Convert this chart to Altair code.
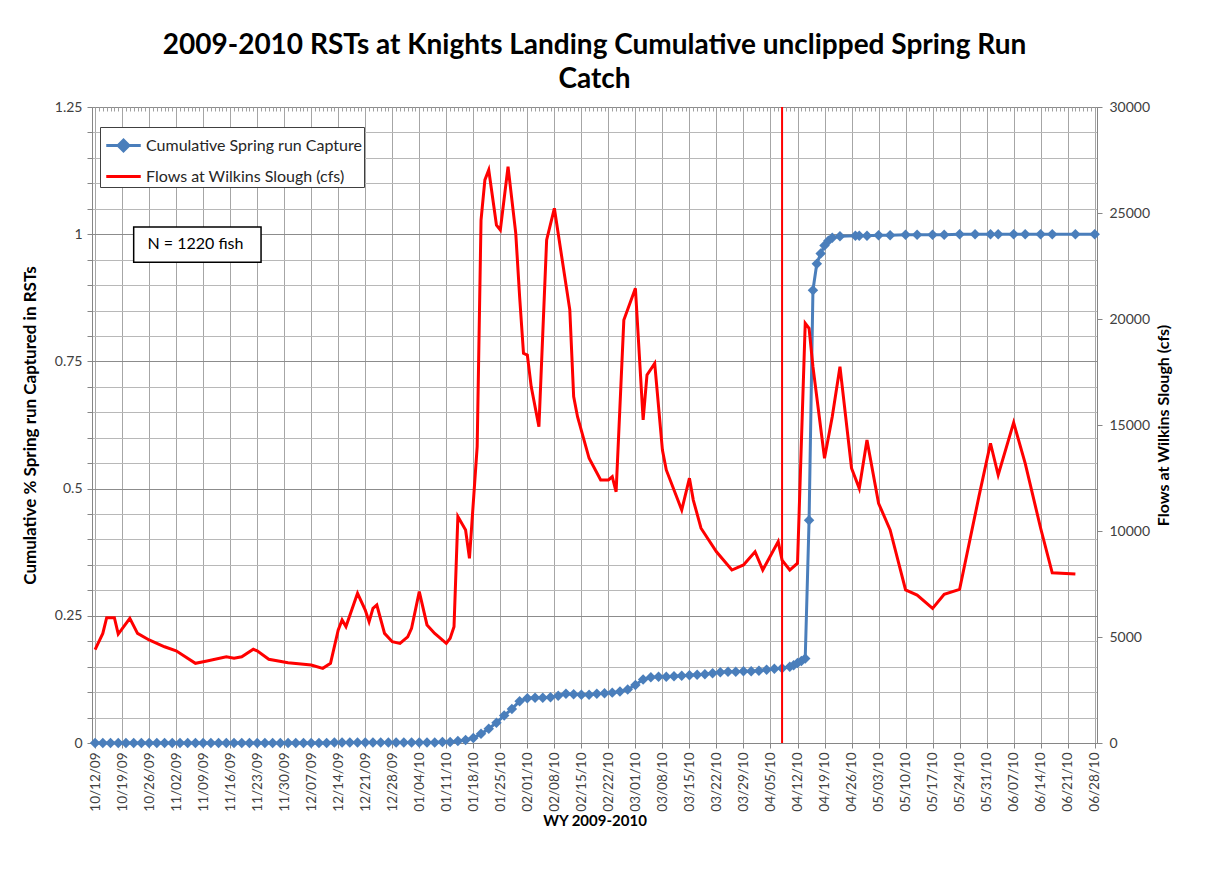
import altair as alt
import pandas as pd

# ---------------- text ----------------
title_lines = ["2009-2010 RSTs at Knights Landing Cumulative unclipped Spring Run", "Catch"]
series_names = ["Cumulative Spring run Capture", "Flows at Wilkins Slough (cfs)"]
x_title = "WY 2009-2010"
left_title = "Cumulative % Spring run Captured in RSTs"
right_title = "Flows at Wilkins Slough (cfs)"
note_text = "N = 1220 fish"

tick_labels = ["10/12/09", "10/19/09", "10/26/09", "11/02/09", "11/09/09", "11/16/09",
               "11/23/09", "11/30/09", "12/07/09", "12/14/09", "12/21/09", "12/28/09",
               "01/04/10", "01/11/10", "01/18/10", "01/25/10", "02/01/10", "02/08/10",
               "02/15/10", "02/22/10", "03/01/10", "03/08/10", "03/15/10", "03/22/10",
               "03/29/10", "04/05/10", "04/12/10", "04/19/10", "04/26/10", "05/03/10",
               "05/10/10", "05/17/10", "05/24/10", "05/31/10", "06/07/10", "06/14/10",
               "06/21/10", "06/28/10"]
left_tick_labels = ["0", "0.25", "0.5", "0.75", "1", "1.25"]
right_tick_values = [0, 5000, 10000, 15000, 20000, 25000, 30000]

# ---------------- flows (right axis, cfs) ----------------
flow_dates = ["2009-10-12", "2009-10-14", "2009-10-15", "2009-10-17", "2009-10-18", "2009-10-21",
              "2009-10-23", "2009-10-26", "2009-10-30", "2009-11-02", "2009-11-07", "2009-11-10",
              "2009-11-15", "2009-11-17", "2009-11-19", "2009-11-22", "2009-11-23", "2009-11-26",
              "2009-12-01", "2009-12-07", "2009-12-10", "2009-12-12", "2009-12-14", "2009-12-15",
              "2009-12-16", "2009-12-19", "2009-12-21", "2009-12-22", "2009-12-23", "2009-12-24",
              "2009-12-26", "2009-12-28", "2009-12-30", "2010-01-01", "2010-01-02", "2010-01-04",
              "2010-01-06", "2010-01-08", "2010-01-11", "2010-01-12", "2010-01-13", "2010-01-14",
              "2010-01-16", "2010-01-17", "2010-01-19", "2010-01-20", "2010-01-21", "2010-01-22",
              "2010-01-24", "2010-01-25", "2010-01-27", "2010-01-29", "2010-01-30", "2010-01-31",
              "2010-02-01", "2010-02-02", "2010-02-04", "2010-02-06", "2010-02-08", "2010-02-12",
              "2010-02-13", "2010-02-14", "2010-02-17", "2010-02-20", "2010-02-22", "2010-02-23",
              "2010-02-24", "2010-02-26", "2010-03-01", "2010-03-03", "2010-03-04", "2010-03-06",
              "2010-03-08", "2010-03-09", "2010-03-13", "2010-03-15", "2010-03-16", "2010-03-18",
              "2010-03-22", "2010-03-26", "2010-03-29", "2010-04-01", "2010-04-03", "2010-04-07",
              "2010-04-08", "2010-04-10", "2010-04-12", "2010-04-14", "2010-04-15", "2010-04-16",
              "2010-04-19", "2010-04-21", "2010-04-23", "2010-04-26", "2010-04-28", "2010-04-30",
              "2010-05-03", "2010-05-06", "2010-05-10", "2010-05-13", "2010-05-17", "2010-05-20",
              "2010-05-24", "2010-05-29", "2010-06-01", "2010-06-03", "2010-06-07", "2010-06-10",
              "2010-06-14", "2010-06-17", "2010-06-23"]
flow_cfs = [4400, 5170, 5910, 5910, 5140, 5880,
            5170, 4860, 4540, 4350, 3760, 3870,
            4070, 4000, 4070, 4420, 4350, 3950,
            3790, 3680, 3520, 3760, 5330, 5800,
            5490, 7060, 6270, 5720, 6350, 6510,
            5170, 4780, 4700, 5010, 5410, 7140,
            5570, 5170, 4700, 4940, 5490, 10680,
            10050, 8710, 13980, 24670, 26560, 27030,
            24430, 24200, 27190, 24040, 21050, 18380,
            18300, 16810, 14920, 23730, 25220, 20430,
            16340, 15390, 13430, 12410, 12410, 12560,
            11850, 19950, 21450, 15240, 17360, 17910,
            13820, 12880, 10990, 12490, 11460, 10130,
            9020, 8160, 8400, 9020, 8160, 9500,
            8630, 8160, 8480, 19800, 19560, 17750,
            13430, 15390, 17750, 12960, 12010, 14290,
            11310, 10050, 7220, 6980, 6350, 7010,
            7250, 11620, 14140, 12640, 15110, 13190,
            10130, 8030, 7970]

# ---------------- cumulative capture (left axis) ----------------
cum_dates = ["2009-10-12", "2009-10-14", "2009-10-16", "2009-10-18", "2009-10-20", "2009-10-22",
             "2009-10-24", "2009-10-26", "2009-10-28", "2009-10-30", "2009-11-01", "2009-11-03",
             "2009-11-05", "2009-11-07", "2009-11-09", "2009-11-11", "2009-11-13", "2009-11-15",
             "2009-11-17", "2009-11-19", "2009-11-21", "2009-11-23", "2009-11-25", "2009-11-27",
             "2009-11-29", "2009-12-01", "2009-12-03", "2009-12-05", "2009-12-07", "2009-12-09",
             "2009-12-11", "2009-12-13", "2009-12-15", "2009-12-17", "2009-12-19", "2009-12-21",
             "2009-12-23", "2009-12-25", "2009-12-27", "2009-12-29", "2009-12-31", "2010-01-02",
             "2010-01-04", "2010-01-06", "2010-01-08", "2010-01-10", "2010-01-12", "2010-01-14",
             "2010-01-16", "2010-01-18", "2010-01-20", "2010-01-22", "2010-01-24", "2010-01-26",
             "2010-01-28", "2010-01-30", "2010-02-01", "2010-02-03", "2010-02-05", "2010-02-07",
             "2010-02-09", "2010-02-11", "2010-02-13", "2010-02-15", "2010-02-17", "2010-02-19",
             "2010-02-21", "2010-02-23", "2010-02-25", "2010-02-27", "2010-03-01", "2010-03-03",
             "2010-03-05", "2010-03-07", "2010-03-09", "2010-03-11", "2010-03-13", "2010-03-15",
             "2010-03-17", "2010-03-19", "2010-03-21", "2010-03-23", "2010-03-25", "2010-03-27",
             "2010-03-29", "2010-03-31", "2010-04-02", "2010-04-04", "2010-04-06", "2010-04-08",
             "2010-04-10", "2010-04-11", "2010-04-12", "2010-04-13", "2010-04-14", "2010-04-15",
             "2010-04-16", "2010-04-17", "2010-04-18", "2010-04-19", "2010-04-20", "2010-04-21",
             "2010-04-23", "2010-04-27", "2010-04-28", "2010-04-30", "2010-05-03", "2010-05-06",
             "2010-05-10", "2010-05-13", "2010-05-17", "2010-05-20", "2010-05-24", "2010-05-28",
             "2010-06-01", "2010-06-03", "2010-06-07", "2010-06-10", "2010-06-14", "2010-06-17",
             "2010-06-23", "2010-06-28"]
cum_values = [0.0, 0.0, 0.0, 0.0, 0.0, 0.0,
              0.0, 0.0, 0.0, 0.0, 0.0, 0.0,
              0.0, 0.0, 0.0, 0.0, 0.0, 0.0,
              0.0, 0.0, 0.0, 0.0, 0.0, 0.0,
              0.0, 0.0, 0.0, 0.0, 0.0, 0.0,
              0.0, 0.001, 0.001, 0.001, 0.001, 0.001,
              0.001, 0.001, 0.001, 0.001, 0.001, 0.001,
              0.001, 0.001, 0.001, 0.002, 0.002, 0.004,
              0.006, 0.010, 0.018, 0.028, 0.040, 0.054,
              0.067, 0.082, 0.088, 0.089, 0.089, 0.090,
              0.093, 0.097, 0.096, 0.095, 0.095, 0.097,
              0.098, 0.099, 0.101, 0.105, 0.114, 0.125,
              0.129, 0.130, 0.130, 0.131, 0.132, 0.133,
              0.134, 0.135, 0.137, 0.139, 0.140, 0.140,
              0.141, 0.141, 0.142, 0.144, 0.146, 0.147,
              0.150, 0.153, 0.157, 0.161, 0.166, 0.438,
              0.890, 0.942, 0.962, 0.978, 0.987, 0.993,
              0.996, 0.997, 0.997, 0.997, 0.998, 0.998,
              0.999, 0.999, 0.999, 0.999, 1.0, 1.0,
              1.0, 1.0, 1.0, 1.0, 1.0, 1.0,
              1.0, 1.0]

marker_dates = ["2010-04-08"]

# annotation box for the fish count (in data units)
note_x = ["2009-10-22"]
note_x2 = ["2009-11-24"]
note_y = [0.945]
note_y2 = [1.014]
note_text_date = ["2009-11-07"]
note_text_y = [0.98]

# ---------------- styling ----------------
BLUE = "#4a7ebb"
RED = "#ff0000"
FONT = "Lato"
DAY = 86400000

flow_df = pd.DataFrame({"date": flow_dates, "cfs": flow_cfs})
cum_df = pd.DataFrame({"date": cum_dates, "value": cum_values})
marker_df = pd.DataFrame({"date": marker_dates})
note_df = pd.DataFrame({"date": note_x, "date2": note_x2, "value": note_y, "value2": note_y2})
note_txt_df = pd.DataFrame({"date": note_text_date, "value": note_text_y, "label": [note_text]})
legend_df = pd.DataFrame({"date": ["2008-01-01", "2008-01-01"], "value": [0.5, 0.5],
                          "series": series_names})

tick_ms = [int(t.value // 10**6) for t in pd.to_datetime(tick_labels, format="%m/%d/%y")]
minor_tick_ms = list(range(tick_ms[0], tick_ms[-1] + 1, DAY))
x_domain = [tick_ms[0] - int(0.8 * DAY), tick_ms[-1] + int(0.6 * DAY)]
x_scale = alt.Scale(type="utc", domain=x_domain)

x_enc = alt.X(
    "date:T",
    scale=x_scale,
    axis=alt.Axis(
        values=tick_ms,
        labelExpr="utcFormat(datum.value, '%m/%d/%y')",
        labelAngle=270,
        labelAlign="right",
        labelBaseline="middle",
        labelFontSize=13.5,
        labelPadding=4,
        title=x_title,
        titleFontWeight="bold",
        titleFontSize=15,
        titlePadding=2,
        grid=True,
        gridColor="#a6a6a6",
        gridWidth=1,
        tickSize=5,
        tickColor="#868686",
        domainColor="#868686",
        labelOverlap=False,
    ),
)

# daily minor ticks drawn just above the date axis
x_minor = alt.X(
    "date:T",
    scale=x_scale,
    axis=alt.Axis(
        values=minor_tick_ms,
        labels=False,
        grid=False,
        domain=False,
        title=None,
        tickSize=4,
        offset=-4,
        tickColor="#a0a0a0",
        tickWidth=1,
    ),
)

left_grid_values = [round(i * 0.05, 2) for i in range(26)]
major_test = "abs(datum.value*4 - round(datum.value*4)) < 0.001"
left_label_expr = (major_test + " ? "
                   + "[" + ",".join("'" + s + "'" for s in left_tick_labels) + "][round(datum.value*4)] : ''")

y_left = alt.Y(
    "value:Q",
    scale=alt.Scale(domain=[0, 1.25], nice=False, zero=True),
    axis=alt.Axis(
        values=left_grid_values,
        labelExpr=left_label_expr,
        labelOverlap=False,
        labelFlush=False,
        labelBound=False,
        orient="left",
        title=left_title,
        titleFontWeight="bold",
        titleFontSize=17,
        titlePadding=15,
        grid=True,
        gridColor={"condition": {"test": major_test, "value": "#8c8c8c"}, "value": "#b8b8b8"},
        tickSize=5,
        tickColor="#868686",
        domainColor="#868686",
        labelFontSize=14,
        labelPadding=5,
    ),
)

y_right = alt.Y(
    "cfs:Q",
    scale=alt.Scale(domain=[0, 30000], nice=False),
    axis=alt.Axis(
        values=right_tick_values,
        format="d",
        orient="right",
        labelOverlap=False,
        labelFlush=False,
        title=right_title,
        titleAngle=270,
        titleFontWeight="bold",
        titleFontSize=16,
        titlePadding=22,
        grid=False,
        tickSize=5,
        tickColor="#868686",
        domainColor="#868686",
        labelFontSize=14,
        labelPadding=7,
    ),
)

diamond_path = "M-1.15,0H1.15M-0.36,0L0,-0.36L0.36,0L0,0.36Z"
line_path = "M-1.15,0H1.15"
legend = alt.Legend(
    title=None, orient="none", legendX=8, legendY=20,
    strokeColor="#404040", fillColor="white", padding=2,
    labelFont=FONT, labelFontSize=16, labelColor="#262626", labelLimit=400,
    symbolSize=900, symbolStrokeWidth=3, rowPadding=3, labelOffset=6, symbolOffset=5,
)

cum_line = alt.Chart(cum_df).mark_line(color=BLUE, strokeWidth=3).encode(x=x_enc, y=y_left)
cum_pts = alt.Chart(cum_df).mark_point(shape="diamond", filled=True, color=BLUE, size=110,
                                       opacity=1).encode(x=x_enc, y=y_left)
legend_layer = alt.Chart(legend_df).mark_point(filled=True, clip=True, strokeWidth=3, opacity=1).encode(
    x=x_enc, y=y_left,
    color=alt.Color("series:N", scale=alt.Scale(domain=series_names, range=[BLUE, RED]), legend=legend),
    stroke=alt.Stroke("series:N", scale=alt.Scale(domain=series_names, range=[BLUE, RED]), legend=legend),
    shape=alt.Shape("series:N", scale=alt.Scale(domain=series_names, range=[diamond_path, line_path]),
                    legend=legend),
)
note_box = alt.Chart(note_df).mark_rect(fill="white", stroke="#000000", strokeWidth=1.5).encode(
    x=x_enc, x2="date2:T", y=y_left, y2="value2:Q")
note_label = alt.Chart(note_txt_df).mark_text(font=FONT, fontSize=16, color="#000000",
                                              align="center", baseline="middle").encode(
    x=x_enc, y=y_left, text="label:N")

left_layer = alt.layer(cum_line, cum_pts, legend_layer, note_box, note_label)

flow_line = alt.Chart(flow_df).mark_line(color=RED, strokeWidth=3).encode(x=x_minor, y=y_right)
marker = alt.Chart(marker_df).mark_rule(color=RED, strokeWidth=2).encode(x=x_minor)
right_layer = alt.layer(flow_line, marker)

chart = alt.layer(left_layer, right_layer).resolve_scale(y="independent").resolve_axis(
    x="independent"
).properties(
    width=1005,
    height=636,
    title=alt.TitleParams(text=title_lines, fontSize=28, font=FONT, fontWeight="bold",
                          color="#000000", anchor="middle", offset=6, lineHeight=34),
    padding={"left": 84, "top": 99, "right": 100, "bottom": 120},
    autosize=alt.AutoSizeParams(type="none"),
).configure_axis(
    labelFont=FONT, titleFont=FONT, labelColor="#404040", titleColor="#000000",
).configure_view(stroke="#a6a6a6")

chart.save("out.html", embed_options={"renderer": "svg", "actions": False})
